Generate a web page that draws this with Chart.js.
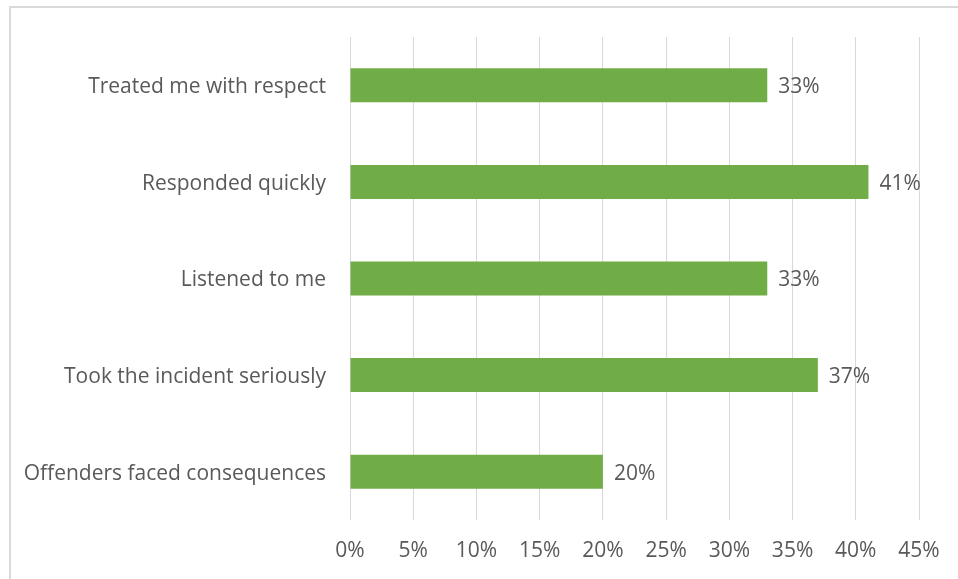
<!DOCTYPE html>
<html><head><meta charset="utf-8">
<script src="https://cdn.jsdelivr.net/npm/chart.js@4"></script>
<style>
html,body{margin:0;padding:0;background:#fff;overflow:hidden;}
#frame{position:absolute;left:9px;top:6px;width:960px;height:600px;border:2px solid #d9d9d9;box-sizing:border-box;}
#wrap{position:absolute;left:0;top:0;width:958px;height:579px;}
</style></head>
<body>
<div id="frame"></div>
<div id="wrap"><canvas id="c" width="958" height="579"></canvas></div>
<script>
const categories = ["Treated me with respect","Responded quickly","Listened to me","Took the incident seriously","Offenders faced consequences"];
const values = [33, 41, 33, 37, 20];
const tickMax = 45;
const tickStep = 5;

const FONT = "'Open Sans', sans-serif";
const TXT = "#595959";

const labelPlugin = {
  id: 'barLabels',
  afterDatasetsDraw(chart) {
    const ctx = chart.ctx;
    const meta = chart.getDatasetMeta(0);
    ctx.save();
    ctx.font = "21px " + FONT;
    ctx.fillStyle = TXT;
    ctx.textAlign = 'left';
    ctx.textBaseline = 'middle';
    meta.data.forEach((bar, i) => {
      ctx.fillText(values[i] + '%', bar.x + 11, bar.y + 2);
    });
    ctx.restore();
  }
};

new Chart(document.getElementById('c'), {
  type: 'bar',
  data: {
    labels: categories,
    datasets: [{
      data: values,
      backgroundColor: '#70AD47',
      borderWidth: 0,
      categoryPercentage: 1,
      barPercentage: 0.352
    }]
  },
  options: {
    indexAxis: 'y',
    responsive: false,
    animation: false,
    devicePixelRatio: 1,
    layout: { padding: { left: 0, top: 37, right: 39, bottom: 0 } },
    plugins: { legend: { display: false }, tooltip: { enabled: false } },
    scales: {
      x: {
        min: 0, max: tickMax,
        ticks: { stepSize: tickStep, callback: v => v + '%', color: TXT, font: { family: FONT, size: 21 }, padding: 18, maxRotation: 0 },
        grid: { color: '#d9d9d9', lineWidth: 1, drawTicks: false },
        border: { display: false },
        afterFit(s) { s.height = 59; }
      },
      y: {
        ticks: { color: TXT, font: { family: FONT, size: 21 }, padding: 24, labelOffset: 2 },
        grid: { display: false, drawTicks: false },
        border: { display: false },
        afterFit(s) { s.width = 350; }
      }
    }
  },
  plugins: [labelPlugin]
});
</script>
</body></html>
